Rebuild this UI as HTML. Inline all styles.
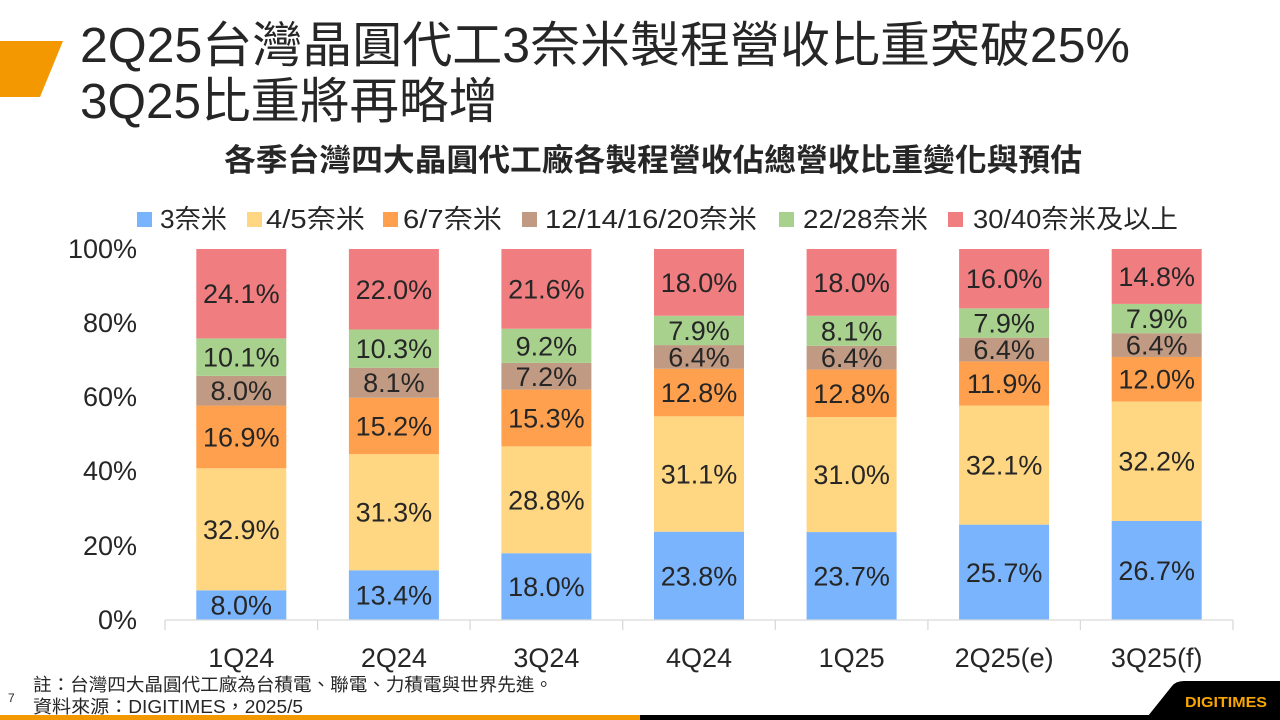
<!DOCTYPE html>
<html>
<head>
<meta charset="utf-8">
<style>
  html, body { margin: 0; padding: 0; background: #fff; }
  body { width: 1280px; height: 720px; overflow: hidden; }
  svg { display: block; }
  text { font-family: "Liberation Sans", "Noto Sans CJK TC", sans-serif; fill: #262626; }
</style>
</head>
<body>
<svg width="1280" height="720" viewBox="0 0 1280 720" xmlns="http://www.w3.org/2000/svg">
  <rect x="0" y="0" width="1280" height="720" fill="#ffffff"/>

  <!-- Orange parallelogram -->
  <polygon points="0,41 63,41 40,97 0,97" fill="#f39800"/>

  <!-- Titles -->
  <text x="80" y="62" font-size="49" textLength="1050" lengthAdjust="spacingAndGlyphs">2Q25台灣晶圓代工3奈米製程營收比重突破25%</text>
  <text x="80" y="118" font-size="49" textLength="418" lengthAdjust="spacingAndGlyphs">3Q25比重將再略增</text>

  <!-- Chart subtitle -->
  <text x="224" y="171" font-size="31" font-weight="bold" textLength="858" lengthAdjust="spacingAndGlyphs">各季台灣四大晶圓代工廠各製程營收佔總營收比重變化與預估</text>

  <!-- Legend -->
  <g font-size="26">
    <rect x="137" y="212" width="15" height="15" fill="#79b4fd"/>
    <text x="160" y="228" textLength="67" lengthAdjust="spacingAndGlyphs">3奈米</text>
    <rect x="247" y="212" width="15" height="15" fill="#ffd682"/>
    <text x="266" y="228" textLength="99" lengthAdjust="spacingAndGlyphs">4/5奈米</text>
    <rect x="383" y="212" width="15" height="15" fill="#ffa04f"/>
    <text x="403" y="228" textLength="99" lengthAdjust="spacingAndGlyphs">6/7奈米</text>
    <rect x="522" y="212" width="15" height="15" fill="#c09a82"/>
    <text x="545" y="228" textLength="212" lengthAdjust="spacingAndGlyphs">12/14/16/20奈米</text>
    <rect x="779" y="212" width="15" height="15" fill="#a9d18e"/>
    <text x="803" y="228" textLength="125" lengthAdjust="spacingAndGlyphs">22/28奈米</text>
    <rect x="948" y="212" width="15" height="15" fill="#f07e81"/>
    <text x="973" y="228" textLength="205" lengthAdjust="spacingAndGlyphs">30/40奈米及以上</text>
  </g>

  <!-- Y axis labels -->
  <g font-size="27" text-anchor="end">
    <text x="137" y="258">100%</text>
    <text x="137" y="332">80%</text>
    <text x="137" y="406">60%</text>
    <text x="137" y="480">40%</text>
    <text x="137" y="555">20%</text>
    <text x="137" y="629">0%</text>
  </g>

  <!-- Bars -->
  <!-- 1Q24 -->
  <g>
    <rect x="196.3" y="590.32" width="90" height="29.68" fill="#79b4fd"/>
    <rect x="196.3" y="468.26" width="90" height="122.06" fill="#ffd682"/>
    <rect x="196.3" y="405.56" width="90" height="62.70" fill="#ffa04f"/>
    <rect x="196.3" y="375.88" width="90" height="29.68" fill="#c09a82"/>
    <rect x="196.3" y="338.41" width="90" height="37.47" fill="#a9d18e"/>
    <rect x="196.3" y="249" width="90" height="89.41" fill="#f07e81"/>
  </g>
  <!-- 2Q24 -->
  <g>
    <rect x="348.9" y="570.29" width="90" height="49.71" fill="#79b4fd"/>
    <rect x="348.9" y="454.16" width="90" height="116.13" fill="#ffd682"/>
    <rect x="348.9" y="397.77" width="90" height="56.39" fill="#ffa04f"/>
    <rect x="348.9" y="367.72" width="90" height="30.05" fill="#c09a82"/>
    <rect x="348.9" y="329.51" width="90" height="38.21" fill="#a9d18e"/>
    <rect x="348.9" y="249" width="90" height="80.51" fill="#f07e81"/>
  </g>
  <!-- 3Q24 -->
  <g>
    <rect x="501.4" y="553.22" width="90" height="66.78" fill="#79b4fd"/>
    <rect x="501.4" y="446.37" width="90" height="106.85" fill="#ffd682"/>
    <rect x="501.4" y="389.61" width="90" height="56.76" fill="#ffa04f"/>
    <rect x="501.4" y="362.90" width="90" height="26.71" fill="#c09a82"/>
    <rect x="501.4" y="328.76" width="90" height="34.14" fill="#a9d18e"/>
    <rect x="501.4" y="249" width="90" height="79.76" fill="#f07e81"/>
  </g>
  <!-- 4Q24 -->
  <g>
    <rect x="654.0" y="531.70" width="90" height="88.30" fill="#79b4fd"/>
    <rect x="654.0" y="416.32" width="90" height="115.38" fill="#ffd682"/>
    <rect x="654.0" y="368.83" width="90" height="47.49" fill="#ffa04f"/>
    <rect x="654.0" y="345.09" width="90" height="23.74" fill="#c09a82"/>
    <rect x="654.0" y="315.78" width="90" height="29.31" fill="#a9d18e"/>
    <rect x="654.0" y="249" width="90" height="66.78" fill="#f07e81"/>
  </g>
  <!-- 1Q25 -->
  <g>
    <rect x="806.6" y="532.07" width="90" height="87.93" fill="#79b4fd"/>
    <rect x="806.6" y="417.06" width="90" height="115.01" fill="#ffd682"/>
    <rect x="806.6" y="369.57" width="90" height="47.49" fill="#ffa04f"/>
    <rect x="806.6" y="345.83" width="90" height="23.74" fill="#c09a82"/>
    <rect x="806.6" y="315.78" width="90" height="30.05" fill="#a9d18e"/>
    <rect x="806.6" y="249" width="90" height="66.78" fill="#f07e81"/>
  </g>
  <!-- 2Q25 -->
  <g>
    <rect x="959.1" y="524.65" width="90" height="95.35" fill="#79b4fd"/>
    <rect x="959.1" y="405.56" width="90" height="119.09" fill="#ffd682"/>
    <rect x="959.1" y="361.41" width="90" height="44.15" fill="#ffa04f"/>
    <rect x="959.1" y="337.67" width="90" height="23.74" fill="#c09a82"/>
    <rect x="959.1" y="308.36" width="90" height="29.31" fill="#a9d18e"/>
    <rect x="959.1" y="249" width="90" height="59.36" fill="#f07e81"/>
  </g>
  <!-- 3Q25 -->
  <g>
    <rect x="1111.7" y="520.94" width="90" height="99.06" fill="#79b4fd"/>
    <rect x="1111.7" y="401.48" width="90" height="119.46" fill="#ffd682"/>
    <rect x="1111.7" y="356.96" width="90" height="44.52" fill="#ffa04f"/>
    <rect x="1111.7" y="333.22" width="90" height="23.74" fill="#c09a82"/>
    <rect x="1111.7" y="303.91" width="90" height="29.31" fill="#a9d18e"/>
    <rect x="1111.7" y="249" width="90" height="54.91" fill="#f07e81"/>
  </g>

  <!-- Data labels -->
  <g font-size="27" text-anchor="middle">
    <text x="241.3" y="614.7">8.0%</text>
    <text x="241.3" y="538.8">32.9%</text>
    <text x="241.3" y="446.4">16.9%</text>
    <text x="241.3" y="400.2">8.0%</text>
    <text x="241.3" y="366.6">10.1%</text>
    <text x="241.3" y="303.2">24.1%</text>

    <text x="393.9" y="604.7">13.4%</text>
    <text x="393.9" y="521.7">31.3%</text>
    <text x="393.9" y="435.5">15.2%</text>
    <text x="393.9" y="392.2">8.1%</text>
    <text x="393.9" y="358.1">10.3%</text>
    <text x="393.9" y="298.8">22.0%</text>

    <text x="546.4" y="596.1">18.0%</text>
    <text x="546.4" y="509.3">28.8%</text>
    <text x="546.4" y="427.5">15.3%</text>
    <text x="546.4" y="385.8">7.2%</text>
    <text x="546.4" y="355.3">9.2%</text>
    <text x="546.4" y="298.4">21.6%</text>

    <text x="699.0" y="585.4">23.8%</text>
    <text x="699.0" y="483.5">31.1%</text>
    <text x="699.0" y="402.1">12.8%</text>
    <text x="699.0" y="366.5">6.4%</text>
    <text x="699.0" y="339.9">7.9%</text>
    <text x="699.0" y="291.9">18.0%</text>

    <text x="851.6" y="585.5">23.7%</text>
    <text x="851.6" y="484.1">31.0%</text>
    <text x="851.6" y="402.8">12.8%</text>
    <text x="851.6" y="367.2">6.4%</text>
    <text x="851.6" y="340.3">8.1%</text>
    <text x="851.6" y="291.9">18.0%</text>

    <text x="1004.1" y="581.8">25.7%</text>
    <text x="1004.1" y="474.6">32.1%</text>
    <text x="1004.1" y="393.0">11.9%</text>
    <text x="1004.1" y="359.0">6.4%</text>
    <text x="1004.1" y="332.5">7.9%</text>
    <text x="1004.1" y="288.2">16.0%</text>

    <text x="1156.7" y="580.0">26.7%</text>
    <text x="1156.7" y="470.7">32.2%</text>
    <text x="1156.7" y="388.7">12.0%</text>
    <text x="1156.7" y="354.6">6.4%</text>
    <text x="1156.7" y="328.1">7.9%</text>
    <text x="1156.7" y="286.0">14.8%</text>
  </g>

  <!-- X axis -->
  <g stroke="#d9d9d9" stroke-width="1.3">
    <line x1="165" y1="620" x2="1233" y2="620"/>
    <line x1="165" y1="620" x2="165" y2="630"/>
    <line x1="317.6" y1="620" x2="317.6" y2="630"/>
    <line x1="470.1" y1="620" x2="470.1" y2="630"/>
    <line x1="622.7" y1="620" x2="622.7" y2="630"/>
    <line x1="775.3" y1="620" x2="775.3" y2="630"/>
    <line x1="927.9" y1="620" x2="927.9" y2="630"/>
    <line x1="1080.4" y1="620" x2="1080.4" y2="630"/>
    <line x1="1233" y1="620" x2="1233" y2="630"/>
  </g>
  <g font-size="27" text-anchor="middle">
    <text x="241.3" y="667">1Q24</text>
    <text x="393.9" y="667">2Q24</text>
    <text x="546.4" y="667">3Q24</text>
    <text x="699.0" y="667">4Q24</text>
    <text x="851.6" y="667">1Q25</text>
    <text x="1004.1" y="667">2Q25(e)</text>
    <text x="1156.7" y="667">3Q25(f)</text>
  </g>

  <!-- Footnotes -->
  <text x="33" y="691" font-size="18" textLength="520" lengthAdjust="spacingAndGlyphs">註：台灣四大晶圓代工廠為台積電、聯電、力積電與世界先進。</text>
  <text x="33" y="713" font-size="18" textLength="270" lengthAdjust="spacingAndGlyphs">資料來源：DIGITIMES，2025/5</text>
  <text x="8" y="702" font-size="12">7</text>

  <!-- Bottom bars -->
  <rect x="0" y="715" width="640" height="5" fill="#f39800"/>
  <rect x="640" y="715" width="640" height="5" fill="#000000"/>
  <path d="M1148 720 L1148 716 L1172 686 Q1176 681 1184 681 L1280 681 L1280 720 Z" fill="#000000"/>
  <text x="1185" y="707" font-size="15" font-weight="bold" style="fill:#f7a600" textLength="82" lengthAdjust="spacingAndGlyphs">DIGITIMES</text>
</svg>
</body>
</html>
